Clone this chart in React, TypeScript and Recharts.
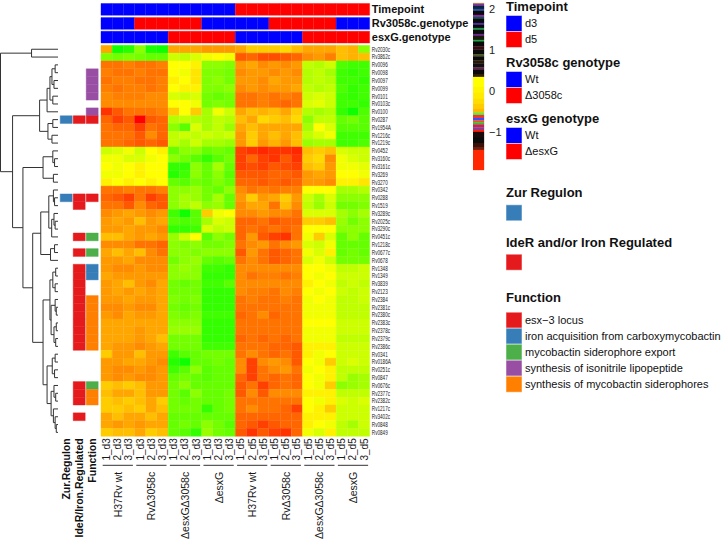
import React from 'react';
import { BarChart, Bar, XAxis, YAxis, Cell, ComposedChart, ReferenceLine, Scatter, Line } from 'recharts';

const FONT = '"Liberation Sans", Arial, Helvetica, sans-serif';

// genes, top to bottom as in the clustered heatmap
const genes = [
  'Rv2030c', 'Rv3862c', 'Rv0096', 'Rv0098', 'Rv0097', 'Rv0099', 'Rv0101', 'Rv0103c', 'Rv0100', 'Rv0287',
  'Rv1954A', 'Rv1216c', 'Rv1219c', 'Rv0452', 'Rv3160c', 'Rv3161c', 'Rv3269', 'Rv3270', 'Rv0342', 'Rv0288',
  'Rv1519', 'Rv3289c', 'Rv2025c', 'Rv3290c', 'Rv0451c', 'Rv1218c', 'Rv0677c', 'Rv0678', 'Rv1348', 'Rv1349',
  'Rv3839', 'Rv2123', 'Rv2384', 'Rv2381c', 'Rv2380c', 'Rv2383c', 'Rv2378c', 'Rv2379c', 'Rv2386c', 'Rv0341',
  'Rv0186A', 'Rv0251c', 'Rv0847', 'Rv0676c', 'Rv2377c', 'Rv2382c', 'Rv1217c', 'Rv3402c', 'Rv0848', 'Rv0849',
];

const samples = [
  '1_d3', '2_d3', '3_d3', '1_d3', '2_d3', '3_d3', '1_d3', '2_d3', '3_d3', '1_d3', '2_d3', '3_d3',
  '1_d5', '2_d5', '3_d5', '1_d5', '2_d5', '3_d5', '1_d5', '2_d5', '3_d5', '1_d5', '2_d5', '3_d5',
];

const groups = ['H37Rv wt', 'RvΔ3058c', 'ΔesxGΔ3058c', 'ΔesxG', 'H37Rv wt', 'RvΔ3058c', 'ΔesxGΔ3058c', 'ΔesxG'];
const groupTimepoint = ['d3', 'd3', 'd3', 'd3', 'd5', 'd5', 'd5', 'd5'];
const groupRv3058c = ['Wt', 'Δ3058c', 'Δ3058c', 'Wt', 'Wt', 'Δ3058c', 'Δ3058c', 'Wt'];
const groupEsxG = ['Wt', 'Wt', 'ΔesxG', 'ΔesxG', 'Wt', 'Wt', 'ΔesxG', 'ΔesxG'];

// scaled expression, one row per gene, 24 samples
const expression = [
  [0.7, -1.9, -1.7, -0.9, -1.8, -1.9, 0.7, 0.7, 0.7, 0.8, 0.8, 0.8, 0.7, 0.4, 0.4, 0.4, 0.3, 0.5, 0.7, 0.7, 0.7, 0.5, 0.6, -0.9],
  [-1.0, -1.1, -1.0, -1.1, -1.2, -1.2, -0.4, -0.5, -0.3, -0.1, 0.0, -0.1, 1.3, 1.2, 1.4, 1.4, 1.3, 1.2, 0.9, 0.8, 1.0, 0.5, 0.6, 0.5],
  [1.1, 1.1, 1.0, 1.1, 1.1, 1.0, 0.0, 0.0, 0.1, -0.9, -0.9, -1.0, 0.8, 0.7, 0.9, 0.8, 0.9, 0.8, -0.5, -0.6, -0.4, -1.4, -1.5, -1.5],
  [1.0, 1.1, 1.1, 1.0, 1.1, 1.1, 0.0, -0.1, 0.2, -1.0, -1.0, -1.1, 0.9, 0.8, 0.8, 0.9, 0.8, 0.9, -0.6, -0.5, -0.7, -1.5, -1.6, -1.5],
  [1.1, 1.0, 1.0, 1.1, 1.1, 1.0, 0.1, 0.0, 0.2, -1.0, -0.9, -1.1, 0.8, 0.8, 0.9, 0.7, 0.8, 0.8, -0.6, -0.5, -0.6, -1.5, -1.5, -1.6],
  [1.0, 1.1, 1.0, 1.0, 1.1, 1.0, 0.0, 0.1, 0.1, -1.0, -1.0, -0.9, 0.9, 0.8, 0.9, 0.8, 0.8, 0.7, -0.5, -0.6, -0.5, -1.4, -1.6, -1.5],
  [0.9, 1.0, 1.0, 1.0, 0.9, 0.9, -0.3, -0.4, -0.3, -1.1, -1.2, -1.1, 1.1, 1.1, 1.0, 1.1, 1.0, 1.1, -0.4, -0.3, -0.4, -1.5, -1.6, -1.5],
  [0.9, 0.9, 0.9, 0.9, 0.9, 0.9, 0.0, 0.0, -0.1, -1.1, -1.0, -1.1, 1.1, 1.1, 1.0, 1.1, 1.2, 1.1, -0.3, -0.2, -0.4, -1.5, -1.5, -1.6],
  [1.6, 1.3, 1.1, 1.1, 1.1, 1.0, 0.4, 0.0, 0.4, -0.7, -0.1, -0.4, 0.7, 0.5, 0.6, 0.5, 0.7, 0.4, -0.6, -0.7, -0.6, -1.6, -1.9, -1.4],
  [1.2, 1.5, 1.3, 2.0, 1.3, 1.2, -0.6, -0.5, -0.6, -0.7, -0.5, -0.6, 0.5, 0.7, 0.3, 0.4, 0.5, 0.3, -0.9, -0.5, -0.5, -1.2, -1.1, -1.3],
  [1.1, 1.2, 1.2, 1.5, 1.1, 1.2, -0.9, -1.3, -0.3, -0.7, -0.5, -0.8, 0.7, 0.5, 0.7, 0.7, 0.7, 0.7, -0.7, 0.0, -0.3, -1.3, -1.3, -1.3],
  [1.1, 1.1, 1.1, 1.3, 0.9, 1.2, -0.5, -0.4, -0.5, -0.4, -0.5, -0.4, 0.8, 0.4, 0.7, 0.5, 0.7, 0.5, -0.5, -0.3, -0.1, -1.5, -1.5, -1.5],
  [1.1, 1.1, 1.2, 1.3, 1.2, 1.3, -0.5, -0.7, -0.4, -0.7, -0.7, -0.8, 0.8, 0.4, 0.8, 0.6, 0.8, 0.5, -0.8, -0.7, -0.7, -1.5, -1.5, -1.4],
  [-0.4, -0.3, -0.1, -0.4, 0.0, 0.1, -1.2, -0.9, -0.9, -1.2, -1.1, -1.2, 1.5, 1.6, 1.7, 1.6, 1.6, 1.7, 0.5, 0.4, 0.5, -0.3, -0.4, -0.4],
  [-0.1, -0.1, -0.3, -0.3, -0.1, 0.0, -0.9, -1.1, -1.3, -1.6, -1.3, -1.1, 1.5, 1.2, 1.5, 1.6, 1.3, 1.6, 0.4, 0.3, 0.9, -0.1, -0.3, -0.4],
  [0.0, -0.1, 0.0, 0.1, 0.0, 0.0, -1.6, -1.6, -0.9, -1.2, -0.7, -1.2, 1.5, 1.4, 1.5, 1.3, 1.4, 1.5, 0.5, 0.4, 0.8, -0.1, -0.1, -0.2],
  [-0.1, -0.1, 0.0, 0.1, 0.0, 0.0, -1.7, -1.5, -0.9, -1.2, -0.9, -1.3, 1.3, 1.3, 1.3, 1.2, 1.2, 1.3, 0.8, 0.7, 0.8, 0.0, 0.0, -0.1],
  [0.1, 0.0, 0.1, 0.0, 0.1, 0.0, -1.2, -1.3, -1.1, -1.2, -1.0, -1.2, 1.2, 1.2, 1.3, 1.2, 1.3, 1.2, 0.8, 0.8, 0.9, 0.1, 0.1, 0.2],
  [1.1, 1.1, 1.0, 1.1, 1.1, 1.0, -0.9, -0.9, -0.8, -1.1, -1.2, -0.9, 0.9, 1.1, 1.0, 1.1, 1.0, 1.0, 0.0, 0.0, 0.0, -0.7, -0.7, -0.6],
  [1.2, 1.3, 1.5, 1.1, 1.5, 1.3, -0.9, -0.7, -0.8, -1.1, -0.7, -1.2, 0.8, 0.4, 0.8, 0.7, 0.4, 0.8, -0.4, -0.7, -0.3, -0.9, -0.9, -0.9],
  [1.1, 1.1, 1.3, 0.9, 1.2, 1.3, -0.9, -0.7, -0.5, -0.9, -0.8, -1.2, 0.9, 0.7, 0.7, 1.1, 0.5, 0.9, -0.5, -0.8, -0.4, -1.1, -1.1, -1.0],
  [0.9, 0.8, 0.7, 0.8, 0.9, 0.8, -1.5, -1.9, -1.3, 0.4, -0.1, 0.0, 0.9, 0.9, 0.8, 0.9, 0.9, 1.1, -0.3, -0.3, -0.3, -0.7, -0.9, -0.7],
  [0.8, 0.7, 0.8, 0.5, 0.8, 0.7, -1.3, -1.4, -1.3, -0.7, -0.3, -0.4, 1.2, 1.2, 1.1, 1.3, 1.2, 1.2, 0.4, 0.4, 0.5, -0.8, -1.1, -0.9],
  [0.8, 0.8, 0.7, 0.8, 0.8, 0.9, -1.6, -1.6, -1.5, -0.3, -0.5, -0.4, 1.2, 1.1, 1.2, 1.1, 1.2, 1.1, 0.0, 0.0, 0.0, -0.9, -0.9, -0.9],
  [0.5, 0.5, 0.7, 0.8, 0.7, 0.8, -0.8, -0.4, 0.0, -1.3, -0.9, -1.1, 1.2, 0.8, 1.3, 1.5, 1.6, 1.1, -0.1, 0.4, -0.3, -1.2, -0.9, -1.2],
  [0.9, 0.9, 0.9, 1.1, 1.1, 1.2, -0.9, -1.0, -0.9, -1.1, -1.1, -1.0, 1.1, 0.9, 0.8, 1.1, 0.9, 0.8, -0.3, -0.4, -0.1, -1.2, -1.2, -1.2],
  [0.7, 0.5, 0.7, 0.5, 0.9, 1.1, -0.9, -0.9, -1.0, -0.9, -0.9, -0.9, 1.3, 0.8, 1.1, 1.3, 1.2, 1.1, -0.1, -0.3, 0.1, -1.2, -1.1, -1.2],
  [0.8, 0.8, 0.7, 0.9, 0.9, 0.9, -1.1, -0.9, -0.8, -1.2, -1.3, -1.2, 1.1, 0.9, 1.1, 1.3, 1.2, 1.1, -0.3, -0.1, -0.4, -1.1, -1.1, -1.1],
  [0.8, 0.9, 0.9, 0.8, 0.9, 0.9, -0.9, -0.8, -0.9, -1.5, -1.5, -1.6, 0.9, 0.9, 0.9, 0.9, 0.9, 0.9, 0.0, 0.0, -0.1, -0.5, -0.5, -0.4],
  [0.7, 0.8, 0.8, 0.8, 0.8, 0.8, -0.9, -0.9, -0.9, -1.6, -1.6, -1.6, 0.9, 1.1, 1.0, 1.0, 1.1, 1.0, 0.0, -0.1, 0.0, -0.4, -0.4, -0.4],
  [0.8, 0.7, 0.5, 0.8, 0.9, 0.7, -1.1, -1.2, -1.1, -1.5, -1.5, -1.3, 0.9, 0.9, 0.9, 0.9, 0.9, 0.9, 0.1, 0.0, -0.1, -0.5, -0.4, -0.5],
  [0.8, 0.7, 0.8, 0.7, 0.8, 0.7, -1.1, -1.1, -1.1, -1.6, -1.6, -1.6, 0.9, 1.0, 1.0, 1.1, 0.9, 1.0, 0.0, -0.1, 0.0, -0.4, -0.5, -0.4],
  [0.8, 0.8, 0.7, 0.8, 0.8, 0.7, -1.0, -1.1, -1.0, -1.6, -1.6, -1.6, 1.1, 1.0, 1.1, 1.1, 1.0, 1.1, -0.1, 0.0, -0.1, -0.5, -0.5, -0.4],
  [0.9, 0.9, 0.8, 0.9, 0.9, 0.7, -1.1, -1.2, -1.1, -1.6, -1.6, -1.6, 1.1, 1.1, 1.1, 1.1, 1.1, 1.1, -0.1, -0.1, -0.1, -0.5, -0.5, -0.5],
  [0.8, 0.9, 0.7, 0.8, 0.8, 0.7, -1.0, -1.1, -1.0, -1.5, -1.5, -1.5, 1.2, 1.1, 0.9, 1.2, 1.1, 1.1, -0.1, -0.1, -0.1, -0.5, -0.5, -0.5],
  [0.7, 0.7, 0.7, 0.7, 0.7, 0.7, -0.9, -0.9, -0.9, -1.6, -1.6, -1.6, 1.1, 1.1, 1.1, 1.1, 1.1, 1.1, 0.0, 0.0, 0.0, -0.4, -0.4, -0.4],
  [0.7, 0.7, 0.7, 0.8, 0.7, 0.7, -0.8, -0.8, -0.8, -1.6, -1.6, -1.6, 1.1, 1.1, 1.1, 1.1, 1.1, 1.1, -0.1, -0.1, -0.1, -0.4, -0.4, -0.4],
  [0.7, 0.7, 0.7, 0.8, 0.7, 0.5, -1.1, -1.1, -1.1, -1.6, -1.6, -1.6, 1.2, 1.1, 1.2, 1.1, 1.2, 1.1, -0.1, -0.1, -0.1, -0.5, -0.5, -0.5],
  [0.7, 0.8, 0.8, 0.9, 0.8, 0.7, -1.1, -1.1, -1.1, -1.5, -1.5, -1.5, 1.1, 1.1, 1.1, 1.2, 1.2, 1.3, 0.1, 0.1, 0.1, -0.4, -0.4, -0.4],
  [0.4, 0.8, 0.8, 0.5, 0.8, 0.8, -1.5, -1.3, -1.2, -1.1, -1.1, -1.1, 1.1, 0.9, 1.1, 1.2, 1.1, 1.3, 0.1, -0.1, 0.0, -0.4, -0.4, -0.4],
  [0.8, 0.8, 0.7, 0.7, 0.8, 0.9, -1.7, -1.9, -1.2, -1.2, -1.1, -1.2, 0.9, 1.5, 0.9, 0.8, 0.9, 1.3, 0.0, -0.1, 0.4, -0.4, -0.3, -0.4],
  [0.8, 0.9, 0.9, 0.8, 0.9, 0.8, -1.5, -1.3, -0.9, -1.3, -1.2, -1.2, 0.9, 1.5, 1.1, 0.9, 0.8, 1.1, -0.1, 0.0, 0.1, -0.5, -0.5, -0.5],
  [0.8, 0.9, 0.8, 0.9, 0.9, 0.8, -1.2, -1.1, -1.2, -1.3, -1.2, -1.2, 1.2, 1.5, 1.1, 1.2, 1.1, 1.2, 0.0, -0.1, 0.1, -0.5, -0.8, -0.7],
  [0.4, 0.5, 0.4, 0.5, 0.8, 0.8, -1.1, -0.9, -1.2, -1.2, -1.2, -1.2, 1.3, 1.1, 1.5, 1.2, 1.1, 1.2, 0.0, -0.1, 0.4, -0.9, -0.8, -0.7],
  [0.5, 0.7, 0.7, 0.5, 0.8, 0.8, -1.1, -1.3, -0.9, -1.2, -1.2, -1.1, 1.3, 0.9, 1.3, 0.9, 0.9, 0.9, 0.1, 0.1, 0.1, -0.5, -0.5, -0.5],
  [0.4, 0.5, 0.4, 0.5, 0.7, 0.4, -1.1, -1.2, -1.1, -1.2, -1.2, -1.1, 1.1, 1.1, 1.1, 1.1, 1.1, 1.1, 0.0, -0.1, 0.1, -0.3, -0.4, -0.3],
  [0.4, 0.4, 0.5, 0.4, 0.7, 0.5, -1.1, -1.1, -1.1, -1.6, -1.2, -1.1, 1.1, 0.9, 1.1, 1.1, 1.2, 1.5, 0.0, 0.1, 0.4, -0.4, -0.4, -0.4],
  [0.7, 0.5, 0.7, 0.7, 0.5, 0.7, -1.2, -1.2, -1.2, -1.2, -1.2, -1.2, 1.2, 1.2, 1.2, 1.2, 1.2, 1.2, 0.1, 0.1, 0.1, -0.4, -0.4, -0.4],
  [0.7, 0.8, 0.7, 0.8, 0.7, 0.7, -1.2, -1.1, -1.2, -0.9, -1.1, -1.3, 1.2, 1.3, 1.5, 1.3, 1.2, 1.2, 0.1, 0.0, -0.1, -0.5, -0.7, -0.4],
  [0.4, 0.5, 0.5, 0.7, 0.4, 0.5, -1.2, -1.3, -1.6, -0.8, -1.1, -1.2, 1.3, 1.6, 1.3, 1.5, 1.6, 1.2, -0.1, -0.3, 0.1, -0.5, -0.5, -0.5],
];

// row annotations
const zurGenes = ['Rv0287', 'Rv0288'];
const iderGenes = [
  'Rv0287', 'Rv0288', 'Rv1519', 'Rv0451c', 'Rv0677c', 'Rv1348', 'Rv1349', 'Rv3839', 'Rv2123', 'Rv2384',
  'Rv2381c', 'Rv2380c', 'Rv2383c', 'Rv2378c', 'Rv2379c', 'Rv2386c', 'Rv0676c', 'Rv2377c', 'Rv2382c', 'Rv3402c',
];
const functionNames = [
  'esx−3 locus',
  'iron acquisition from carboxymycobactin',
  'mycobactin siderophore export',
  'synthesis of isonitrile lipopeptide',
  'synthesis of mycobactin siderophores',
];
const functionColors = ['#E41A1C', '#377EB8', '#4DAF4A', '#984EA3', '#FF7F00'];
const functionGenes = [
  ['Rv0287', 'Rv0288'],
  ['Rv1348', 'Rv1349'],
  ['Rv0451c', 'Rv0677c', 'Rv0676c'],
  ['Rv0098', 'Rv0097', 'Rv0099', 'Rv0101', 'Rv0100'],
  ['Rv2384', 'Rv2381c', 'Rv2380c', 'Rv2383c', 'Rv2378c', 'Rv2379c', 'Rv2386c', 'Rv2377c', 'Rv2382c'],
];

// row dendrogram: [merge height, left, right], leaves are row indices
type Node = number | [number, Node, Node];
const dendrogram: Node = [10,
  [4.6, 0, 1],
  [7.9,
    [3.2,
      [1.9, [1.4, [1.05, [0.5, 2, 3], [0.7, 4, 5]], [0.9, 6, 7]], 8],
      [1.75, [0.9, 9, 10], [1.05, 11, 12]]],
    [6.1,
      [2.6, [0.9, 13, [0.6, 14, 15]], [0.8, 16, 17]],
      [4.4,
        [3.0, [1.6, [0.8, 18, [0.6, 19, 20]], [1.1, [0.7, 21, [0.5, 22, 23]], 24]], [1.3, [0.6, 25, 26], 27]],
        [2.6,
          [1.4, [0.9, [0.4, 28, 29], [0.5, 30, 31]], [1.2, [0.5, 32, [0.3, 33, 34]], [0.7, [0.3, 35, 36], [0.4, 37, 38]]]],
          [1.9, [1.0, [0.5, 39, 40], [0.6, 41, 42]], [1.2, [0.7, 43, [0.4, 44, 45]], [0.8, 46, [0.5, 47, [0.3, 48, 49]]]]]]]]]];

// colour key stripes, top to bottom
const keyColors = [
  '#B89060', '#7A3A9A', '#0A2540', '#3050A0', '#0A0A0A', '#8A2AA0', '#105050', '#0A0A0A', '#5030A0', '#0A0A0A',
  '#209050', '#0A0A0A', '#6A2A8A', '#1A1A0A', '#10B040', '#0A0A0A', '#3A0A10', '#0A0A0A', '#4A5A20', '#0A0A0A',
  '#2A1A05', '#101010', '#6A1A4A', '#0A0A0A', '#302000',
  '#FFFF00', '#FFF500', '#FFEA00', '#FFDD00', '#FFCC00', '#FFB800',
  '#30FF60', '#FF3020', '#3050FF', '#FF5010', '#30C030', '#D02050', '#8040A0', '#FF2000', '#1A0A0A', '#0A0A0A',
  '#3A1008', '#6A2010', '#FF2800',
];
const keySizes = [
  1, 2, 3, 2, 4, 2, 2, 4, 2, 3,
  2, 4, 2, 4, 1.5, 5, 3, 5, 2, 4,
  3, 4, 2, 4.5, 3,
  10, 6, 6, 5, 5, 4,
  2, 3, 2.5, 2, 2, 3, 2.5, 2, 6, 5,
  4, 3, 20,
];
const keyTicks = [-1, 0, 1, 2];
const keyRange = [-1.93, 2.14];

const TRACK = 1.5;
const trackGaps = [0.3, 0.25, 0.3];
const ROW0 = TRACK * 3 + trackGaps[0] + trackGaps[1] + trackGaps[2];
const TOTAL = ROW0 + genes.length;
const HEAT_LEFT = 101;
const HEAT_RIGHT = 369.8;
const COL_W = (HEAT_RIGHT - HEAT_LEFT) / samples.length;

const valueColor = (v: number) => {
  const t = Math.max(-2, Math.min(2, v));
  if (t < 0) return `rgb(${Math.round(255 * (1 + t / 2))},255,0)`;
  return `rgb(255,${Math.round(255 * (1 - t / 2))},0)`;
};
const levelColor = (lvl: string, first: string) => (lvl === first ? '#0000FF' : '#FF0000');

type Seg = { key: string; size: number; fill: (c: number) => string };

const heatSegs: Seg[] = [
  { key: 'tp', size: TRACK, fill: (c) => levelColor(groupTimepoint[Math.floor(c / 3)], 'd3') },
  { key: 'g1', size: trackGaps[0], fill: () => 'none' },
  { key: 'rv', size: TRACK, fill: (c) => levelColor(groupRv3058c[Math.floor(c / 3)], 'Wt') },
  { key: 'g2', size: trackGaps[1], fill: () => 'none' },
  { key: 'esx', size: TRACK, fill: (c) => levelColor(groupEsxG[Math.floor(c / 3)], 'Wt') },
  { key: 'g3', size: trackGaps[2], fill: () => 'none' },
  ...genes.map((g, r) => ({ key: `r${r}`, size: 1, fill: (c: number) => valueColor(expression[r][c]) })),
];

const heatData = samples.map((s, c) => {
  const o: Record<string, number> = { idx: c };
  heatSegs.forEach((seg) => { o[seg.key] = seg.size; });
  return o;
});

const trackLabels = ['Timepoint', 'Rv3058c.genotype', 'esxG.genotype'];
const trackCenters = [TRACK / 2, TRACK * 1.5 + trackGaps[0], TRACK * 2.5 + trackGaps[0] + trackGaps[1]];
const rightTicks = [...trackCenters, ...genes.map((g, r) => ROW0 + r + 0.5)];
const rightLabels = [...trackLabels, ...genes];

const annCols = ['Zur.Regulon', 'IdeR/Iron.Regulated', 'Function'];
const rowAnnColor = (col: number, gene: string) => {
  if (col === 0) return zurGenes.includes(gene) ? '#377EB8' : 'none';
  if (col === 1) return iderGenes.includes(gene) ? '#E41A1C' : 'none';
  const f = functionGenes.findIndex((list) => list.includes(gene));
  return f >= 0 ? functionColors[f] : 'none';
};
const annSegs: Seg[] = [
  { key: 'off', size: ROW0, fill: () => 'none' },
  ...genes.map((g, r) => ({ key: `r${r}`, size: 1, fill: (c: number) => rowAnnColor(c, g) })),
];
const annData = annCols.map((a, c) => {
  const o: Record<string, number> = { idx: c };
  annSegs.forEach((seg) => { o[seg.key] = seg.size; });
  return o;
});

type Pt = { x: number; y: number };
const dendroSegs: [Pt, Pt][] = [];
const layoutTree = (node: Node): { y: number; h: number } => {
  if (typeof node === 'number') return { y: ROW0 + node + 0.5, h: 0 };
  const [h, a, b] = node;
  const A = layoutTree(a);
  const B = layoutTree(b);
  dendroSegs.push([{ x: h, y: A.y }, { x: h, y: B.y }]);
  dendroSegs.push([{ x: A.h, y: A.y }, { x: h, y: A.y }]);
  dendroSegs.push([{ x: B.h, y: B.y }, { x: h, y: B.y }]);
  return { y: (A.y + B.y) / 2, h };
};
layoutTree(dendrogram);
const leafPoints = genes.map((g, r) => ({ x: 0, y: ROW0 + r + 0.5 }));

const keyData = [{ name: 'key', anchor: null, ...Object.fromEntries(keySizes.map((s, i) => [`k${i}`, s])) }];
const keyTotal = keySizes.reduce((a, b) => a + b, 0);

const SampleTick = (props: any) => {
  const { x, y, payload } = props;
  return (
    <text x={x} y={y} transform={`rotate(-90 ${x} ${y})`} textAnchor="end" dominantBaseline="central"
      fontSize={10} fill="#1a1a1a" fontFamily={FONT}>
      {samples[payload.value]}
    </text>
  );
};

const GroupTick = (props: any) => {
  const { x, y, payload } = props;
  const i = payload.value as number;
  if (i % 3 !== 1) return <g />;
  const half = COL_W * 1.35;
  return (
    <g>
      <line x1={x - half} x2={x + half} y1={y - 5} y2={y - 5} stroke="#333" strokeWidth={1} />
      <text x={x} y={y + 1.5} transform={`rotate(-90 ${x} ${y + 1.5})`} textAnchor="end" dominantBaseline="central"
        fontSize={10.5} fill="#1a1a1a" fontFamily={FONT}>
        {groups[Math.floor(i / 3)]}
      </text>
    </g>
  );
};

const RightTick = (props: any) => {
  const { x, y, payload } = props;
  const k = rightTicks.indexOf(payload.value);
  if (k < 0) return <g />;
  if (k < trackLabels.length) {
    return (
      <text x={x} y={y} dominantBaseline="central" fontSize={11} fontWeight="bold" fill="#111" fontFamily={FONT}>
        {rightLabels[k]}
      </text>
    );
  }
  return (
    <text transform={`translate(${x},${y}) scale(0.66,1)`} x={0} y={0} dominantBaseline="central"
      fontSize={7} fill="#222" fontFamily={FONT}>
      {rightLabels[k]}
    </text>
  );
};

const AnnTick = (props: any) => {
  const { x, y, payload } = props;
  return (
    <text x={x} y={y} transform={`rotate(-90 ${x} ${y})`} textAnchor="end" dominantBaseline="central"
      fontSize={10.5} fontWeight="bold" fill="#111" fontFamily={FONT}>
      {annCols[payload.value]}
    </text>
  );
};

const KeyTick = (props: any) => {
  const { x, y, payload } = props;
  return (
    <text x={x} y={y} dominantBaseline="central" fontSize={11} fill="#222" fontFamily={FONT}>
      {String(payload.value).replace('-', '−')}
    </text>
  );
};

const legendGroups = [
  { title: 'Timepoint', y: 10.5, items: [{ c: '#0000FF', t: 'd3' }, { c: '#FF0000', t: 'd5' }] },
  { title: 'Rv3058c genotype', y: 66.5, items: [{ c: '#0000FF', t: 'Wt' }, { c: '#FF0000', t: 'Δ3058c' }] },
  { title: 'esxG genotype', y: 122.5, items: [{ c: '#0000FF', t: 'Wt' }, { c: '#FF0000', t: 'ΔesxG' }] },
  { title: 'Zur Regulon', y: 197.3, items: [{ c: '#377EB8', t: '' }] },
  { title: 'IdeR and/or Iron Regulated', y: 246.7, items: [{ c: '#E41A1C', t: '' }] },
  { title: 'Function', y: 301.7, items: functionNames.map((t, i) => ({ c: functionColors[i], t })) },
];

const Legend = () => (
  <svg width={722} height={544} style={{ position: 'absolute', left: 0, top: 0, pointerEvents: 'none' }}>
    {legendGroups.map((g, gi) => (
      <g key={g.title}>
        <text x={506} y={g.y} fontSize={13} fontWeight="bold" fill="#111" fontFamily={FONT}>{g.title}</text>
        {g.items.map((it, i) => {
          const top = g.y + (gi >= 3 ? 7.5 : 5) + (gi === 5 ? 3 : 0) + i * 16;
          return (
            <g key={i}>
              <rect x={506} y={top} width={16} height={16} fill={it.c} stroke="#ffffff" strokeOpacity={0.5} />
              <text x={525} y={top + 11.8} fontSize={11} fill="#111" fontFamily={FONT}>{it.t}</text>
            </g>
          );
        })}
      </g>
    ))}
  </svg>
);

const App: React.FC = () => (
  <div style={{ position: 'absolute', left: 0, top: 0, width: 722, height: 544, overflow: 'hidden', background: '#fff', fontFamily: FONT }}>
    {/* dendrogram */}
    <div style={{ position: 'absolute', left: 0, top: 0 }}>
      <ComposedChart width={60} height={544} data={leafPoints}
        margin={{ top: 3.5, right: 2, left: 0.5, bottom: 107.7 }}>
        <XAxis type="number" dataKey="x" domain={[0, 10]} reversed hide />
        <YAxis type="number" dataKey="y" domain={[0, TOTAL]} reversed hide />
        <Scatter data={leafPoints} dataKey="y" fill="none" isAnimationActive={false} shape={() => <g />} />
        {dendroSegs.map((s, i) => (
          <ReferenceLine key={i} segment={s} stroke="#333" strokeWidth={1} ifOverflow="visible" />
        ))}
      </ComposedChart>
    </div>

    {/* row annotations */}
    <div style={{ position: 'absolute', left: 0, top: 0 }}>
      <BarChart width={101} height={544} data={annData} barCategoryGap={0.7} barGap={0}
        margin={{ top: 3.5, right: 2.5, left: 59.5, bottom: 1.7 }}>
        <XAxis dataKey="idx" type="category" height={106} interval={0} tickLine={false} axisLine={false}
          tickSize={0} tickMargin={2} tick={<AnnTick />} />
        <YAxis type="number" domain={[0, TOTAL]} reversed hide />
        {annSegs.map((seg) => (
          <Bar key={seg.key} dataKey={seg.key} stackId="a" isAnimationActive={false}>
            {annCols.map((a, c) => {
              const f = seg.fill(c);
              return <Cell key={c} fill={f} stroke={f} strokeWidth={0.4} />;
            })}
          </Bar>
        ))}
      </BarChart>
    </div>

    {/* heatmap with column annotations */}
    <div style={{ position: 'absolute', left: 0, top: 0 }}>
      <BarChart width={480} height={544} data={heatData} barCategoryGap={0} barGap={0}
        margin={{ top: 3.5, right: 5.2, left: HEAT_LEFT, bottom: 1.7 }}>
        <XAxis dataKey="idx" type="category" height={34} interval={0} tickLine={false} axisLine={false}
          tickSize={0} tickMargin={2} tick={<SampleTick />} />
        <XAxis dataKey="idx" type="category" xAxisId="grp" height={72} interval={0} tickLine={false} axisLine={false}
          tickSize={0} tickMargin={0} tick={<GroupTick />} />
        <YAxis type="number" orientation="right" domain={[0, TOTAL]} reversed ticks={rightTicks} interval={0}
          width={105} tickLine={false} axisLine={false} tickSize={0} tickMargin={2} tick={<RightTick />} />
        {heatSegs.map((seg) => (
          <Bar key={seg.key} dataKey={seg.key} stackId="a" isAnimationActive={false}>
            {samples.map((s, c) => {
              const f = seg.fill(c);
              return <Cell key={c} fill={f} stroke={f} strokeWidth={0.4} />;
            })}
          </Bar>
        ))}
      </BarChart>
    </div>

    {/* colour key */}
    <div style={{ position: 'absolute', left: 473, top: 0 }}>
      <ComposedChart width={45} height={200} data={keyData} barCategoryGap={0} barGap={0}
        margin={{ top: 3, right: 4, left: 0, bottom: 30 }}>
        <XAxis dataKey="name" type="category" hide />
        <YAxis yAxisId="seg" type="number" domain={[0, keyTotal]} reversed hide />
        <YAxis yAxisId="val" type="number" orientation="right" domain={keyRange} ticks={keyTicks} allowDataOverflow
          interval={0} width={30} tickLine={false} axisLine={false} tickSize={0} tickMargin={5} tick={<KeyTick />} />
        {keySizes.map((s, i) => (
          <Bar key={i} yAxisId="seg" dataKey={`k${i}`} stackId="k" fill={keyColors[i]} stroke={keyColors[i]}
            strokeWidth={0.3} isAnimationActive={false} />
        ))}
        <Line yAxisId="val" dataKey="anchor" stroke="none" dot={false} activeDot={false} legendType="none"
          isAnimationActive={false} />
      </ComposedChart>
    </div>

    <Legend />
  </div>
);

export default App;
